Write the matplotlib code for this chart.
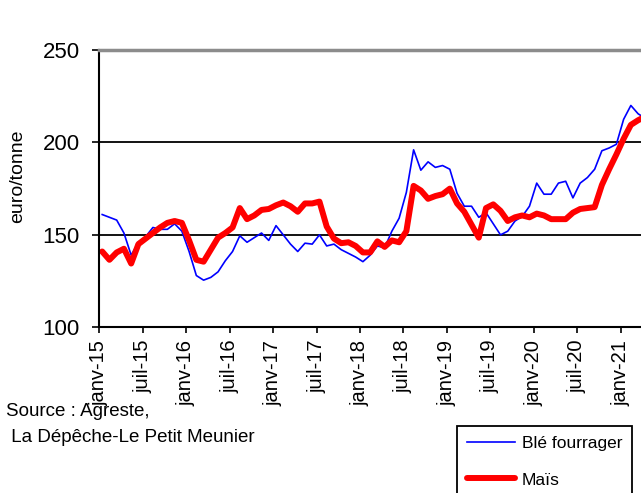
import numpy as np
import matplotlib
matplotlib.use('Agg')
import matplotlib.pyplot as plt

plt.rcParams['font.family'] = ['Liberation Sans', 'DejaVu Sans']

# Monthly prices (euro/tonne), janv-15 onwards
ble = [161, 159.5, 158, 151, 139, 146, 149, 154, 153, 153, 156, 152,
       141, 128, 125.5, 127, 130, 136, 141, 149.5, 146, 148.5, 151, 147,
       155, 150, 145, 141, 145.5, 145, 150, 144, 145, 142, 140, 138,
       135.5, 139, 144, 143, 152, 159, 173, 196, 185, 189.5, 186.5, 187.5,
       185.5, 172.5, 165.5, 165.5, 159.5, 162, 156, 150, 152, 157.5, 160, 165.5,
       178, 172, 172, 178, 179, 170, 178, 181, 185.5, 195.5, 197, 199,
       212.5, 220, 215.5, 213]
mais = [141, 136.5, 140.5, 142.5, 134.5, 145, 148, 151, 154, 156.5, 157.5, 156.5,
        147, 136.5, 135.5, 142, 148.5, 151, 154, 164.5, 158.5, 160.5, 163.5, 164,
        166, 167.5, 165.5, 162.5, 167, 167, 168, 154.5, 148, 145.5, 146, 144,
        140.5, 140.5, 146.5, 143.5, 147, 146, 152, 176.5, 174, 169.5, 171, 172,
        175, 167, 162.5, 155.5, 148.5, 164.5, 166.5, 163, 157.5, 159.5, 160.5, 159.5,
        161.5, 160.5, 158.5, 158.5, 158.5, 162, 164, 164.5, 165, 177, 185.5, 193.5,
        202, 209.5, 212, 214]

tick_labels = ['janv-15', 'juil-15', 'janv-16', 'juil-16', 'janv-17', 'juil-17',
               'janv-18', 'juil-18', 'janv-19', 'juil-19', 'janv-20', 'juil-20',
               'janv-21']

x = np.arange(len(ble)) + 0.4  # values sit a little after the month tick

fig = plt.figure(figsize=(6.41, 4.93), dpi=100)
ax = fig.add_axes([99.3 / 641, 165.7 / 493, 1 - 99.3 / 641, 277.3 / 493])

ax.plot(x, ble, color='#0000ff', lw=1.2, label='Blé fourrager')
ax.plot(x, mais, color='#ff0000', lw=4.3, label='Maïs', solid_capstyle='round',
        solid_joinstyle='round')

ax.set_xlim(0, 74.8)
ax.set_ylim(100, 250)
ax.set_yticks([100, 150, 200, 250])
ax.set_xticks(np.arange(0, 73, 6))
ax.set_xticklabels(tick_labels, rotation=90)
ax.tick_params(axis='both', width=1.2, color='black')
ax.tick_params(axis='y', length=5, pad=9, labelsize=16)
ax.tick_params(axis='x', length=4, pad=5, labelsize=14.5)

for yv in [150, 200]:
    ax.axhline(yv, color='black', lw=1.3, zorder=0)

ax.spines['right'].set_visible(False)
ax.spines['top'].set_color('#8c8c8c')
ax.spines['top'].set_linewidth(2.5)
ax.spines['left'].set_linewidth(1.5)
ax.spines['bottom'].set_linewidth(1.5)

fig.text(18 / 641, 1 - 176 / 493, 'euro/tonne', rotation=90, fontsize=14,
         ha='center', va='center')
fig.text(6 / 641, 1 - 412 / 493, 'Source : Agreste,', fontsize=13.5, va='center')
fig.text(6 / 641, 1 - 437 / 493, ' La Dépêche-Le Petit Meunier', fontsize=13.5,
         va='center')

leg = fig.legend(loc='upper left', bbox_to_anchor=(457.3 / 641, 1 - 426 / 493),
                 borderaxespad=0, fontsize=12.5, handlelength=2.8,
                 handletextpad=0.35, labelspacing=1.25, borderpad=0.55,
                 fancybox=False, edgecolor='black', framealpha=1)
leg.get_frame().set_linewidth(1.3)

fig.savefig('out.png', dpi=100)
